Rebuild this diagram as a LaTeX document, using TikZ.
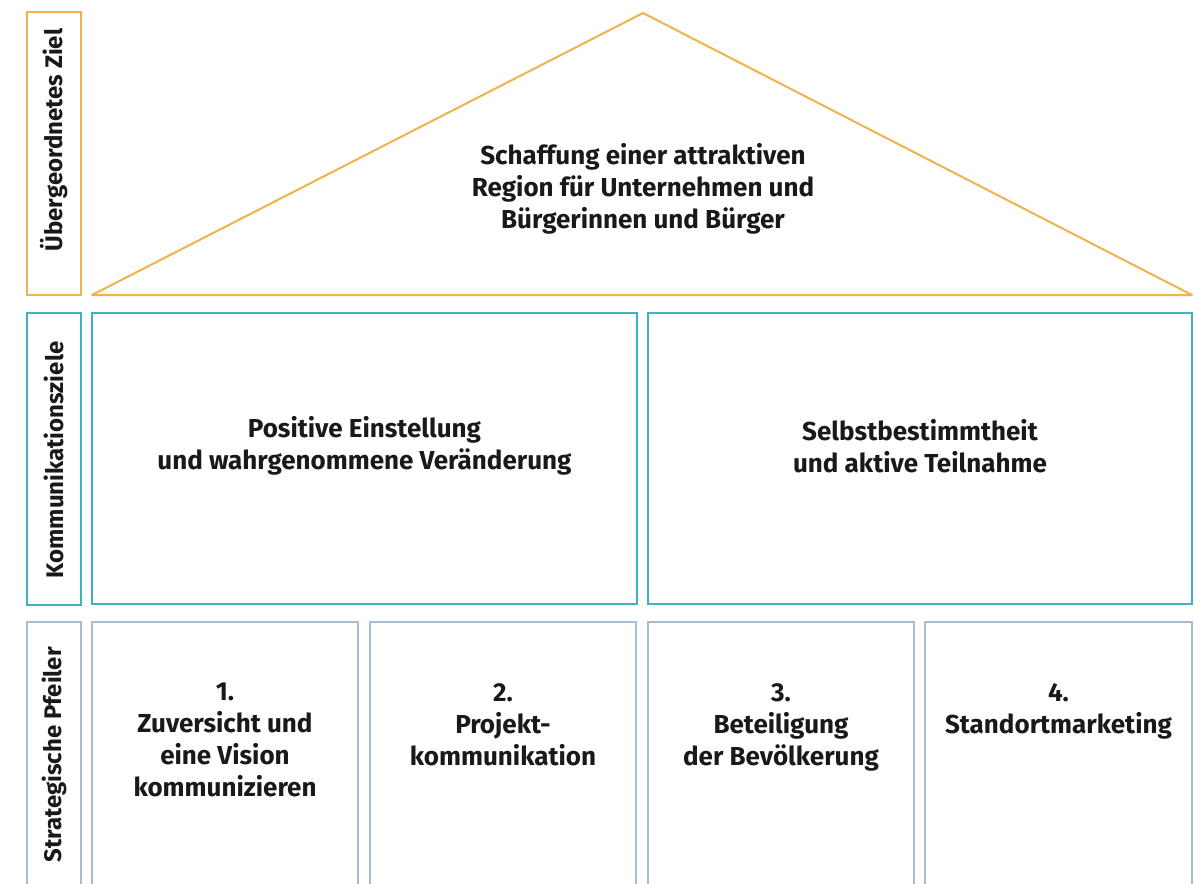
\documentclass[tikz,border=0pt]{standalone}
\usepackage{fontspec}
\setmainfont{Fira Sans}
\definecolor{goal}{HTML}{F0B24A}
\definecolor{comm}{HTML}{3FB2C0}
\definecolor{pill}{HTML}{A6BCDB}
\begin{document}
\begin{tikzpicture}[x=1pt,y=-1pt,
  goalline/.style={draw=goal,line width=2pt},
  commline/.style={draw=comm,line width=2pt},
  pillline/.style={draw=pill,line width=2pt},
  maintext/.style={font=\fontsize{26}{32}\selectfont\bfseries,align=center,text=black!90,inner sep=0pt},
  sidetext/.style={font=\fontsize{24}{28}\selectfont\bfseries,rotate=90,text=black!90,inner sep=0pt}]
\useasboundingbox (0,0) rectangle (1195,884);
\clip (0,0) rectangle (1195,884);
% row 1
\draw[goalline] (27,12) rectangle (81,295);
\node[sidetext] (l1) at (54,140) {Übergeordnetes Ziel};
\coordinate (tl) at (92,295);
\coordinate (tt) at (643,13);
\coordinate (tr) at (1192,295);
\draw[goalline,line join=round] (tl) -- (tt) -- (tr) -- cycle;
\node[maintext] (goal) at (643,189) {Schaffung einer attraktiven\\Region für Unternehmen und\\Bürgerinnen und Bürger};
% row 2
\draw[commline] (27,313) rectangle (81,605);
\node[sidetext] (l2) at (54,460) {Kommunikationsziele};
\draw[commline] (92,313) rectangle (637,604);
\draw[commline] (648,313) rectangle (1192,604);
\node[maintext] (c1) at (364.5,446) {Positive Einstellung\\und wahrgenommene Veränderung};
\node[maintext] (c2) at (920,446) {Selbstbestimmtheit\\und aktive Teilnahme};
% row 3
\draw[pillline] (27,622) rectangle (81,950);
\node[sidetext] (l3) at (54,755) {Strategische Pfeiler};
\draw[pillline] (92,622) rectangle (358,950);
\draw[pillline] (370,622) rectangle (636,950);
\draw[pillline] (648,622) rectangle (914,950);
\draw[pillline] (925,622) rectangle (1192,950);
\node[maintext,anchor=north] (p1) at (225,683) {1.\\Zuversicht und\\eine Vision\\kommunizieren};
\node[maintext,anchor=north] (p2) at (503,683) {2.\\Projekt-\\kommunikation};
\node[maintext,anchor=north] (p3) at (781,683) {3.\\Beteiligung\\der Bevölkerung};
\node[maintext,anchor=north] (p4) at (1058.5,683) {4.\\Standortmarketing};
\end{tikzpicture}
\end{document}
